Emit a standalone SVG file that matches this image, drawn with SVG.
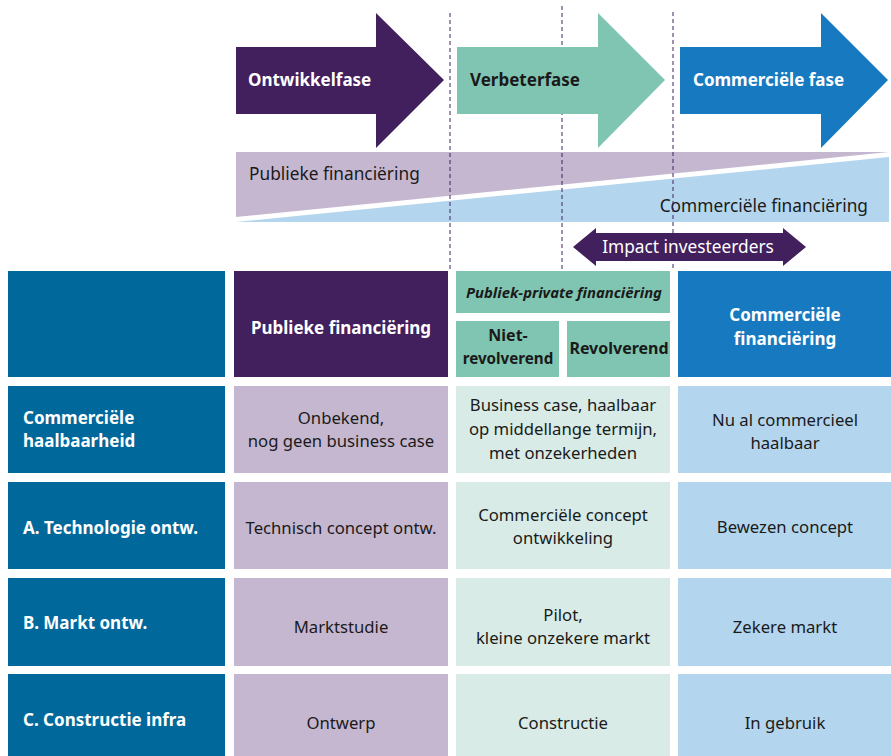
<svg xmlns="http://www.w3.org/2000/svg" width="891" height="756" viewBox="0 0 891 756">
<style>
text{font-family:"Noto Sans","Open Sans","Liberation Sans",sans-serif;font-size:16.7px;fill:#1a1a1a}
.b{font-weight:bold;font-size:17px}
.s{font-size:16px}
.big{font-size:17.3px}
.w{fill:#ffffff}
.c{text-anchor:middle}
.lab{fill:#01689b}
.pd{fill:#42205e}
.pl{fill:#c6b7d0}
.td{fill:#80c5b1}
.tl{fill:#d8ebe6}
.bd{fill:#1779bf}
.bl{fill:#b3d6ee}
.dash{stroke:#42205e;stroke-width:1;stroke-dasharray:4 3;fill:none}
</style>
<g id="funding">
<polygon points="236,152 889,152 236,217" fill="#c6b7d0"/>
<polygon points="236,222 889,157 889,222" fill="#b3d6ee"/>
<text class="big" x="249" y="180">Publieke financiëring</text>
<text class="big" x="868" y="212" text-anchor="end">Commerciële financiëring</text>
</g>
<g id="connectors">
<line class="dash" x1="450" y1="13" x2="450" y2="270"/>
<line class="dash" x1="562" y1="6" x2="562" y2="270"/>
<line class="dash" x1="673" y1="12" x2="673" y2="270"/>
</g>
<g id="phase-ontwikkel">
<polygon class="pd" points="236,47 376,47 376,13 444,80 376,148 376,114 236,114"/>
<text class="b w" x="248" y="86">Ontwikkelfase</text>
</g>
<g id="phase-verbeter">
<polygon class="td" points="457,47 598,47 598,13 665,80 598,148 598,114 457,114"/>
<text class="b" x="470" y="86">Verbeterfase</text>
</g>
<g id="phase-commercieel">
<polygon class="bd" points="680,47 821,47 821,13 888,80 821,148 821,114 680,114"/>
<text class="b w" x="693" y="86">Commerciële fase</text>
</g>
<g id="impact">
<polygon class="pd" points="573,247 596,228 596,233 783,233 783,228 806,247 783,266 783,261 596,261 596,266"/>
<text class="big w c" x="688" y="253">Impact investeerders</text>
</g>
<g id="header-label"><rect class="lab" x="8" y="271" width="217" height="106"/></g>
<g id="header-publiek">
<rect class="pd" x="234" y="271" width="214" height="106"/>
<text class="b w c" x="341" y="334">Publieke financiëring</text>
</g>
<g id="header-pp">
<rect class="td" x="456" y="271" width="214" height="42"/>
<text class="b c" x="564" y="298" font-style="italic" style="font-size:14.8px">Publiek-private financiëring</text>
</g>
<g id="header-niet">
<rect class="td" x="456" y="321" width="103" height="56"/>
<text class="b c s" x="508" y="341">Niet-</text>
<text class="b c" x="508" y="364" style="font-size:15.2px">revolverend</text>
</g>
<g id="header-revolverend">
<rect class="td" x="567" y="321" width="103" height="56"/>
<text class="b c s" x="619" y="354">Revolverend</text>
</g>
<g id="header-commercieel">
<rect class="bd" x="678" y="271" width="213" height="106"/>
<text class="b w c" x="785" y="321">Commerciële</text>
<text class="b w c" x="785" y="345">financiëring</text>
</g>
<g id="row1-label">
<rect class="lab" x="8" y="386" width="217" height="87"/>
<text class="b w" x="23" y="424">Commerciële</text>
<text class="b w" x="23" y="447">haalbaarheid</text>
</g>
<g id="row1-publiek">
<rect class="pl" x="234" y="386" width="214" height="87"/>
<text class="c" x="341" y="424">Onbekend,</text>
<text class="c" x="341" y="447">nog geen business case</text>
</g>
<g id="row1-pp">
<rect class="tl" x="456" y="386" width="214" height="87"/>
<text class="c" x="563" y="411">Business case, haalbaar</text>
<text class="c" x="563" y="435">op middellange termijn,</text>
<text class="c" x="563" y="459">met onzekerheden</text>
</g>
<g id="row1-commercieel">
<rect class="bl" x="678" y="386" width="213" height="87"/>
<text class="c" x="785" y="426">Nu al commercieel</text>
<text class="c" x="785" y="449">haalbaar</text>
</g>
<g id="row2-label">
<rect class="lab" x="8" y="482" width="217" height="87"/>
<text class="b w" x="23" y="534">A. Technologie ontw.</text>
</g>
<g id="row2-publiek">
<rect class="pl" x="234" y="482" width="214" height="87"/>
<text class="c" x="341" y="534">Technisch concept ontw.</text>
</g>
<g id="row2-pp">
<rect class="tl" x="456" y="482" width="214" height="87"/>
<text class="c" x="563" y="521">Commerciële concept</text>
<text class="c" x="563" y="544">ontwikkeling</text>
</g>
<g id="row2-commercieel">
<rect class="bl" x="678" y="482" width="213" height="87"/>
<text class="c" x="785" y="533">Bewezen concept</text>
</g>
<g id="row3-label">
<rect class="lab" x="8" y="578" width="217" height="88"/>
<text class="b w" x="23" y="629">B. Markt ontw.</text>
</g>
<g id="row3-publiek">
<rect class="pl" x="234" y="578" width="214" height="88"/>
<text class="c" x="341" y="633">Marktstudie</text>
</g>
<g id="row3-pp">
<rect class="tl" x="456" y="578" width="214" height="88"/>
<text class="c" x="563" y="621">Pilot,</text>
<text class="c" x="563" y="644">kleine onzekere markt</text>
</g>
<g id="row3-commercieel">
<rect class="bl" x="678" y="578" width="213" height="88"/>
<text class="c" x="785" y="633">Zekere markt</text>
</g>
<g id="row4-label">
<rect class="lab" x="8" y="674" width="217" height="82"/>
<text class="b w" x="23" y="726">C. Constructie infra</text>
</g>
<g id="row4-publiek">
<rect class="pl" x="234" y="674" width="214" height="82"/>
<text class="c" x="341" y="729">Ontwerp</text>
</g>
<g id="row4-pp">
<rect class="tl" x="456" y="674" width="214" height="82"/>
<text class="c" x="563" y="729">Constructie</text>
</g>
<g id="row4-commercieel">
<rect class="bl" x="678" y="674" width="213" height="82"/>
<text class="c" x="785" y="729">In gebruik</text>
</g>
</svg>
